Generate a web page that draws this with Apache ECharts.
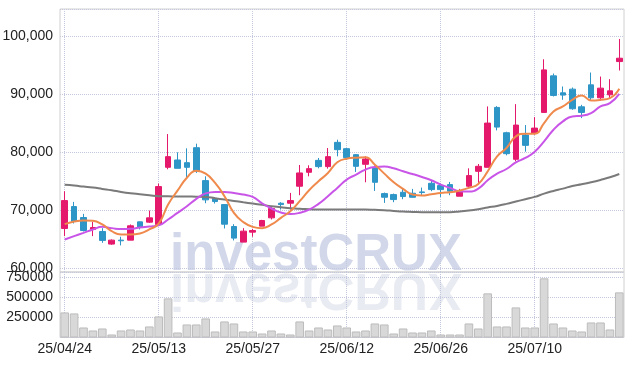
<!DOCTYPE html>
<html>
<head>
<meta charset="utf-8">
<script src="https://cdn.jsdelivr.net/npm/echarts@6/dist/echarts.min.js"></script>
<style>
  html, body { margin: 0; padding: 0; background: #fff; }
  #main { width: 634px; height: 366px; }
</style>
</head>
<body>
<div id="main"></div>
<script>
// 거래일
var dates = ['25/04/24','25/04/25','25/04/28','25/04/29','25/04/30','25/05/02','25/05/07','25/05/08','25/05/09','25/05/12',
  '25/05/13','25/05/14','25/05/15','25/05/16','25/05/19','25/05/20','25/05/21','25/05/22','25/05/23','25/05/26',
  '25/05/27','25/05/28','25/05/29','25/05/30','25/06/02','25/06/04','25/06/05','25/06/09','25/06/10','25/06/11',
  '25/06/12','25/06/13','25/06/16','25/06/17','25/06/18','25/06/19','25/06/20','25/06/23','25/06/24','25/06/25',
  '25/06/26','25/06/27','25/06/30','25/07/01','25/07/02','25/07/03','25/07/04','25/07/07','25/07/08','25/07/09',
  '25/07/10','25/07/11','25/07/14','25/07/15','25/07/16','25/07/17','25/07/18','25/07/21','25/07/22','25/07/23'];

var opens = [66860,70640,68750,66690,66340,64170,64850,64850,68000,67950,
  67550,77400,78660,78200,80780,75110,71960,70980,67200,64510,
  66230,67260,68690,71210,71210,74140,76540,78600,77520,81700,
  80610,79580,77920,77340,72870,72700,73100,72930,73160,74650,
  74250,74420,72420,74140,76710,77400,87720,83360,78780,82960,
  83300,86860,93160,90240,90870,87830,91610,89380,89890,95620];

var closes = [71670,68060,66510,67030,64800,64850,64740,67320,67090,68690,
  74080,79240,77230,77400,76710,71790,71500,67600,65200,66400,
  66510,68230,70300,70980,71670,76430,77170,77520,79240,80440,
  79060,77570,78830,74820,72240,71840,72360,72240,73050,73560,
  73560,73280,73220,75970,77570,85020,84330,79750,84680,81180,
  84160,94190,89780,89840,87490,86860,89380,91040,90580,96200];

var lows = [65540,67720,66340,65540,64390,64050,63940,64850,66690,67830,
  67550,77060,77230,75570,76430,71210,71160,66860,64800,64510,
  65430,67260,68410,70120,70120,72590,75850,77230,77170,79290,
  78720,76600,74820,73330,71270,71390,71900,72190,72650,73280,
  72300,72590,72420,73790,74480,77400,83760,79460,78430,80090,
  83020,86860,89610,89030,87310,85880,88860,88860,89210,94080];

var highs = [73280,71440,69380,68000,66910,64970,65430,67550,68060,69950,
  74590,83130,79980,80670,81470,75850,72240,70980,67600,66920,
  66800,68350,70580,71390,72990,77800,77750,79010,80720,82160,
  80720,79690,79290,77690,73050,72870,73730,73680,73910,75170,
  74590,74880,73680,77230,77970,87890,87940,83530,88290,84680,
  86050,96020,93560,91330,91150,88170,93730,93040,92590,99520];

var ma5 = [67600,68060,68250,68180,67550,66400,65830,65830,66000,66690,
  67700,71000,73370,75600,76800,76310,74710,72420,69550,67950,
  67140,66920,67550,68690,69840,71560,73450,74990,76430,78260,
  78890,79060,79120,77860,76310,74820,73680,72700,72530,72760,
  72990,73100,73390,73850,74540,76710,79290,80720,82730,83190,
  83190,85020,87030,87890,89030,89780,88920,89030,89320,90920];

var ma20 = [64950,65540,66110,66690,67140,66920,66750,66800,67030,67200,
  67400,68410,69550,70680,71960,72900,73160,73160,72990,72700,
  72300,71200,70300,69600,69350,69560,70100,71100,72420,73850,
  75280,76140,77000,77460,77520,77230,76710,76250,75740,75170,
  74420,73850,73280,73220,73730,75170,76310,77110,78260,79010,
  80090,81870,83880,85310,86170,86280,86740,87890,88460,90060];

var ma60 = [74380,74250,74080,73910,73680,73450,73160,72930,72760,72590,
  72420,72400,72380,72360,72340,72300,72070,71840,71610,71380,
  71160,70930,70700,70530,70350,70240,70180,70120,70120,70120,
  70120,70120,70120,70070,70010,69890,69780,69720,69670,69670,
  69670,69670,69780,69950,70180,70470,70750,71100,71500,71900,
  72300,72870,73330,73730,74190,74480,74820,75220,75680,76250];

var volumes = [312000,299500,124800,87400,112300,37400,87400,99800,87400,137300,
  262100,486700,62400,162200,162200,237100,74900,199700,174700,74900,
  74900,49900,87400,49900,37400,199700,87400,124800,99800,149800,
  124800,74900,87400,174700,162200,49900,112300,62400,62400,87400,
  37400,37400,37400,174700,112300,549100,137300,137300,374400,124800,
  124800,736300,174700,124800,87400,74900,187200,187200,99800,561600];

var priceTicks = [60000, 70000, 80000, 90000, 100000];
var volumeTicks = [250000, 500000, 750000];

var ohlc = dates.map(function (d, i) {
  return [opens[i], closes[i], lows[i], highs[i]];
});

var labelFont = '"Liberation Sans", Arial, sans-serif';
var gridLine = { type: 'dotted', color: '#c3c8dc', width: 1 };

function comma(v) {
  return String(v).replace(/\B(?=(\d{3})+(?!\d))/g, ',');
}

var myChart = echarts.init(document.getElementById('main'));

var option = {
  animation: false,
  backgroundColor: '#ffffff',
  grid: [
    { left: 60, right: 10, top: 9, height: 263, show: true, borderColor: '#d0d0d0', borderWidth: 1, outerBoundsMode: 'none' },
    { left: 60, right: 10, top: 272, height: 65.5, show: true, borderColor: '#d0d0d0', borderWidth: 1, outerBoundsMode: 'none' }
  ],
  graphic: [
    {
      type: 'text', x: 170, y: 256, z: 0, silent: true,
      style: { text: 'investCRUX', fontSize: 51, fontWeight: 'bold', fontFamily: '"Liberation Sans", Arial, sans-serif',
        fill: '#d2d8ea', verticalAlign: 'middle' }
    },
    {
      type: 'text', x: 170, y: 256, z: 0, silent: true, scaleY: -1, originY: 16,
      style: { text: 'investCRUX', fontSize: 51, fontWeight: 'bold', fontFamily: '"Liberation Sans", Arial, sans-serif',
        fill: '#e9ebf2', verticalAlign: 'middle' }
    }
  ],
  xAxis: [
    {
      type: 'category', gridIndex: 0, data: dates, boundaryGap: true,
      axisLine: { show: false }, axisTick: { show: false }, axisLabel: { show: false },
      splitLine: { show: true, interval: 9, alignWithLabel: true, lineStyle: gridLine }
    },
    {
      type: 'category', gridIndex: 1, data: dates, boundaryGap: true,
      axisLine: { show: false }, axisTick: { show: false },
      axisLabel: { interval: 9, color: '#222', fontSize: 14, fontFamily: labelFont, margin: 5 },
      splitLine: { show: true, interval: 9, alignWithLabel: true, lineStyle: gridLine }
    }
  ],
  yAxis: [
    {
      type: 'value', gridIndex: 0, min: 59360, max: 104680, splitNumber: 5, scale: true,
      axisLine: { show: false }, axisTick: { show: false },
      axisLabel: {
        color: '#222', fontSize: 14, fontFamily: labelFont, margin: 7,
        formatter: function (v) { return priceTicks.indexOf(v) >= 0 ? comma(v) : ''; }
      },
      splitLine: { show: true, lineStyle: gridLine }
    },
    {
      type: 'value', gridIndex: 1, min: 0, max: 815000, interval: 250000,
      axisLine: { show: false }, axisTick: { show: false },
      axisLabel: {
        color: '#222', fontSize: 14, fontFamily: labelFont, margin: 7,
        formatter: function (v) { return volumeTicks.indexOf(v) >= 0 ? String(v) : ''; }
      },
      splitLine: { show: true, lineStyle: gridLine }
    }
  ],
  series: [
    {
      name: 'price', type: 'candlestick', xAxisIndex: 0, yAxisIndex: 0, data: ohlc, barWidth: 6,
      itemStyle: { color: '#e5196b', color0: '#2e95c7', borderColor: '#e5196b', borderColor0: '#2e95c7', borderWidth: 1 }
    },
    {
      name: 'MA60', type: 'line', xAxisIndex: 0, yAxisIndex: 0, data: ma60, smooth: true, showSymbol: false,
      lineStyle: { color: '#7a7a7a', width: 2 }
    },
    {
      name: 'MA20', type: 'line', xAxisIndex: 0, yAxisIndex: 0, data: ma20, smooth: true, showSymbol: false,
      lineStyle: { color: '#c955e8', width: 2 }
    },
    {
      name: 'MA5', type: 'line', xAxisIndex: 0, yAxisIndex: 0, data: ma5, smooth: true, showSymbol: false,
      lineStyle: { color: '#ef8a4c', width: 2 }
    },
    {
      name: 'volume', type: 'bar', xAxisIndex: 1, yAxisIndex: 1, data: volumes, barWidth: '92%',
      itemStyle: { color: '#d8d8d8', borderColor: '#bcbcbc', borderWidth: 1 }
    }
  ]
};

myChart.setOption(option);
</script>
</body>
</html>
